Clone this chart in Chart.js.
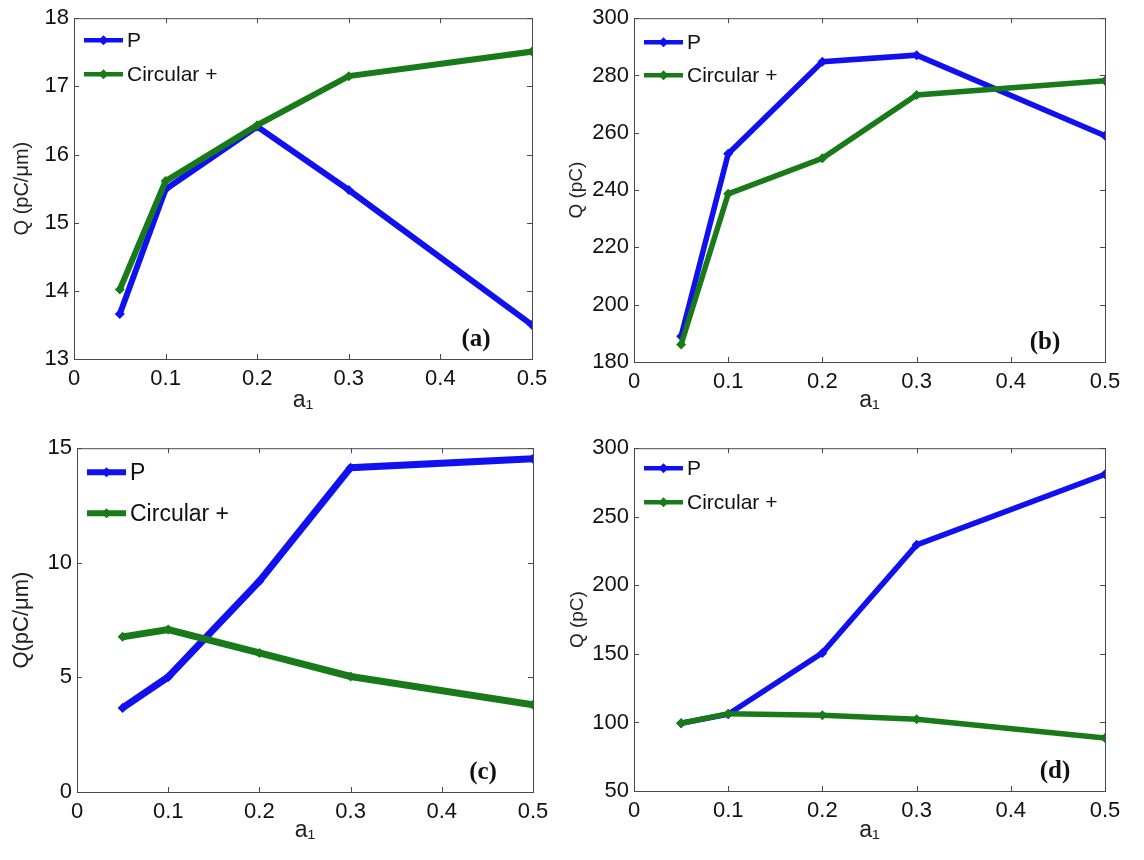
<!DOCTYPE html>
<html>
<head>
<meta charset="utf-8">
<script src="https://cdn.jsdelivr.net/npm/chart.js@4.4.1/dist/chart.umd.min.js"></script>
<style>
  body { margin: 0; background: #fff; width: 1144px; height: 860px; position: relative; overflow: hidden; }
  canvas { position: absolute; }
</style>
</head>
<body>
<canvas id="panelA" width="560" height="430" style="left:0;top:0"></canvas>
<canvas id="panelB" width="584" height="430" style="left:560px;top:0"></canvas>
<canvas id="panelC" width="560" height="430" style="left:0;top:430px"></canvas>
<canvas id="panelD" width="584" height="430" style="left:560px;top:430px"></canvas>
<script>
// a1 values and tick labels
const a1 = [0.05, 0.1, 0.2, 0.3, 0.5];
const xTicks = [0, 0.1, 0.2, 0.3, 0.4, 0.5];
const seriesNames = ['P', 'Circular +'];

// (a) Q (pC/um)
const pA = [13.66, 15.49, 16.41, 15.48, 13.5];
const cA = [14.02, 15.61, 16.43, 17.15, 17.51];
const yTicksA = [13, 14, 15, 16, 17, 18];

// (b) Q (pC)
const pB = [189, 252.7, 284.8, 287.1, 259];
const cB = [186.1, 238.7, 251.1, 273.2, 278.2];
const yTicksB = [180, 200, 220, 240, 260, 280, 300];

// (c) Q(pC/um)
const pC = [3.67, 5.02, 9.2, 14.15, 14.54];
const cC = [6.77, 7.09, 6.07, 5.04, 3.81];
const yTicksC = [0, 5, 10, 15];

// (d) Q (pC)
const pD = [99.4, 106, 150.7, 229.5, 281];
const cD = [99.4, 106.4, 105.2, 102.4, 88.6];
const yTicksD = [50, 100, 150, 200, 250, 300];

const BLUE = 'rgb(16,16,240)';
const GREEN = 'rgb(24,122,24)';
const AXIS = '#4a4a4a';
const FONT = '"Liberation Sans", Arial, sans-serif';

// draws the matlab style box, inward ticks, legend and panel tag
const matlabFrame = {
    id: 'matlabFrame',
    beforeDatasetsDraw(chart) {
        const { ctx, chartArea: ca, scales } = chart;
        ctx.save();
        ctx.strokeStyle = AXIS;
        ctx.lineWidth = 1;
        ctx.strokeRect(ca.left + 0.5, ca.top + 0.5, ca.right - ca.left, ca.bottom - ca.top);
        ctx.beginPath();
        scales.x.ticks.forEach(t => {
            const x = Math.round(scales.x.getPixelForValue(t.value)) + 0.5;
            ctx.moveTo(x, ca.bottom); ctx.lineTo(x, ca.bottom - 5);
            ctx.moveTo(x, ca.top); ctx.lineTo(x, ca.top + 5);
        });
        scales.y.ticks.forEach(t => {
            const y = Math.round(scales.y.getPixelForValue(t.value)) + 0.5;
            ctx.moveTo(ca.left, y); ctx.lineTo(ca.left + 5, y);
            ctx.moveTo(ca.right, y); ctx.lineTo(ca.right - 5, y);
        });
        ctx.stroke();
        ctx.restore();
    },
    afterDatasetsDraw(chart, args, opts) {
        const { ctx, chartArea: ca } = chart;
        ctx.save();
        // legend
        chart.data.datasets.forEach((ds, i) => {
            const x0 = ca.left + opts.legX;
            const y = ca.top + opts.legY + i * opts.legGap;
            ctx.strokeStyle = ds.borderColor;
            ctx.lineWidth = opts.legLine;
            ctx.beginPath();
            ctx.moveTo(x0, y); ctx.lineTo(x0 + 39, y);
            ctx.stroke();
            ctx.fillStyle = ds.borderColor;
            ctx.beginPath();
            ctx.moveTo(x0 + 19.5, y - 5); ctx.lineTo(x0 + 24.5, y);
            ctx.lineTo(x0 + 19.5, y + 5); ctx.lineTo(x0 + 14.5, y);
            ctx.closePath(); ctx.fill();
            ctx.fillStyle = '#111';
            ctx.font = opts.legFont + 'px ' + FONT;
            ctx.textBaseline = 'middle';
            ctx.textAlign = 'left';
            ctx.fillText(ds.label, x0 + 43, y + 1);
        });
        // panel tag
        ctx.font = 'bold 25px "Liberation Serif", "Times New Roman", serif';
        ctx.fillStyle = '#111';
        ctx.textAlign = 'center';
        ctx.textBaseline = 'middle';
        ctx.fillText(opts.tag, ca.right - opts.tagDx, ca.bottom - opts.tagDy);
        ctx.restore();
    }
};

function makePanel(id, pData, cData, yTicks, yTitle, look) {
    const toPts = arr => arr.map((v, i) => ({ x: a1[i], y: v }));
    const line = (label, data, color, order) => ({
        label, data: toPts(data), order,
        borderColor: color, backgroundColor: color,
        borderWidth: look.lw, pointStyle: 'rectRot', pointRadius: 5,
        pointBorderWidth: 0, pointBackgroundColor: color,
        tension: 0, fill: false
    });
    new Chart(document.getElementById(id), {
        type: 'line',
        data: {
            datasets: [
                line(seriesNames[0], pData, BLUE, 1),
                line(seriesNames[1], cData, GREEN, 0)
            ]
        },
        options: {
            responsive: false,
            animation: false,
            devicePixelRatio: 1,
            layout: { padding: { top: look.top, right: look.right, left: 0, bottom: 0 } },
            plugins: {
                legend: { display: false },
                tooltip: { enabled: false },
                matlabFrame: look
            },
            scales: {
                x: {
                    type: 'linear', min: 0, max: 0.5,
                    afterBuildTicks: s => { s.ticks = xTicks.map(v => ({ value: v })); },
                    afterFit: s => { s.height = look.xH; },
                    grid: { display: false, drawTicks: false },
                    border: { display: false },
                    ticks: { color: '#111', padding: 7, font: { family: FONT, size: 22 }, maxRotation: 0,
                             callback: v => String(v) },
                    title: { display: true, text: 'a\u2081', color: '#222',
                             font: { family: FONT, size: 23 }, padding: { top: 0, bottom: 16 } }
                },
                y: {
                    min: yTicks[0], max: yTicks[yTicks.length - 1],
                    afterBuildTicks: s => { s.ticks = yTicks.map(v => ({ value: v })); },
                    afterFit: s => { s.width = look.yW; },
                    grid: { display: false, drawTicks: false },
                    border: { display: false },
                    ticks: { color: '#111', padding: 5, font: { family: FONT, size: 22 },
                             callback: v => String(v) },
                    title: { display: true, text: yTitle, color: '#222',
                             font: { family: FONT, size: look.ytSize }, padding: { top: look.ytPad, bottom: 0 } }
                }
            }
        },
        plugins: [matlabFrame]
    });
}

makePanel('panelA', pA, cA, yTicksA, 'Q (pC/\u03bcm)',
    { tag: '(a)', yW: 74, xH: 71, top: 16, right: 28, lw: 6, ytSize: 20, ytPad: 10,
      legX: 10, legY: 22, legGap: 34, legLine: 4.5, legFont: 21, tagDx: 56, tagDy: 19 });
makePanel('panelB', pB, cB, yTicksB, 'Q (pC)',
    { tag: '(b)', yW: 74, xH: 68, top: 16, right: 39, lw: 5.5, ytSize: 19, ytPad: 5,
      legX: 10, legY: 24, legGap: 33, legLine: 4.5, legFont: 21, tagDx: 60, tagDy: 19 });
makePanel('panelC', pC, cC, yTicksC, 'Q(pC/\u03bcm)',
    { tag: '(c)', yW: 77, xH: 68, top: 16, right: 27, lw: 7, ytSize: 22, ytPad: 9,
      legX: 10, legY: 24, legGap: 41, legLine: 6, legFont: 23, tagDx: 50, tagDy: 19 });
makePanel('panelD', pD, cD, yTicksD, 'Q (pC)',
    { tag: '(d)', yW: 74, xH: 69, top: 13, right: 39, lw: 5.5, ytSize: 19, ytPad: 6,
      legX: 10, legY: 20, legGap: 34, legLine: 4.5, legFont: 21, tagDx: 50, tagDy: 19 });
</script>
</body>
</html>
